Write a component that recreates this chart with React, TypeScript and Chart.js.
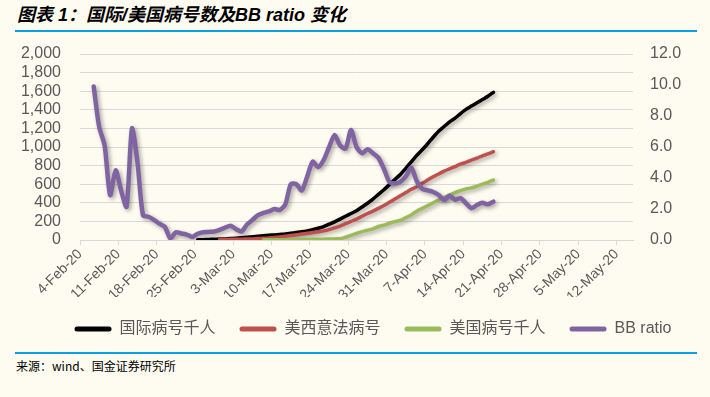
import React, { useEffect, useRef } from 'react';
import { Chart, registerables } from 'chart.js';

Chart.register(...registerables);

// ---- data ----
const tickLabels = [
  '4-Feb-20', '11-Feb-20', '18-Feb-20', '25-Feb-20', '3-Mar-20', '10-Mar-20', '17-Mar-20',
  '24-Mar-20', '31-Mar-20', '7-Apr-20', '14-Apr-20', '21-Apr-20', '28-Apr-20', '5-May-20', '12-May-20',
];
const axisDays = 101; // 4-Feb-20 .. 14-May-20
const seriesNames = ['国际病号千人', '美西意法病号', '美国病号千人', 'BB ratio'];
const seriesColors = ['#000000', '#C0504D', '#9BBB59', '#8064A2'];

// day offset (from 4-Feb-20) of each series' first value
const intlStart = 21;
const intlValues = [
  2, 4, 6, 8, 10, 12, 15, 18, 23, 29,
  36, 40, 45, 50, 55, 60, 65, 72, 80, 88,
  98, 110, 126, 145, 170, 195, 225, 255, 285, 315,
  355, 395, 440, 490, 540, 595, 650, 705, 770, 840,
  910, 970, 1035, 1105, 1170, 1220, 1270, 1310, 1360, 1405,
  1440, 1475, 1510, 1545, 1588,
];
const euStart = 25;
const euValues = [
  5, 6, 7, 8, 9, 10, 12, 15, 18, 22,
  27, 33, 40, 48, 56, 64, 72, 80, 88, 98,
  112, 130, 150, 175, 200, 225, 255, 285, 310, 340,
  370, 405, 440, 475, 510, 545, 573, 610, 645, 680,
  710, 740, 765, 790, 815, 835, 860, 880, 905, 925,
  949,
];
const usStart = 33;
const usValues = [
  2, 3, 3, 4, 4, 5, 5, 6, 6, 7,
  8, 9, 10, 12, 14,
  30, 50, 70, 90, 105, 120, 145, 160, 180, 197,
  212, 240, 270, 310, 340, 370, 400, 430, 455, 485,
  510, 530, 550, 560, 580, 600, 620, 645,
];
const ratioStart = 2;
const ratioValues = [
  9.9, 7.3, 6.1, 2.9, 4.5, 3.2, 2.15, 7.2, 5.0, 1.6,
  1.5, 1.3, 1.05, 0.85, 0.1, 0.5, 0.42, 0.35, 0.2, 0.4,
  0.5, 0.52, 0.55, 0.65, 0.8, 0.92, 0.7, 0.55, 1.0, 1.3,
  1.6, 1.75, 1.85, 2.0, 1.94, 2.3, 3.6, 3.6, 3.2, 4.1,
  5.05, 4.7, 5.16, 6.0, 6.77, 6.1, 5.9, 7.1, 6.0, 5.6,
  5.85, 5.6, 5.3, 4.6, 3.75, 3.65, 3.75, 4.1, 4.67, 3.8,
  3.3, 3.2, 3.1, 2.9, 2.58, 2.85, 2.6, 2.7, 2.37, 2.05,
  2.26, 2.4, 2.3, 2.47,
];

const toPoints = (start: number, values: number[]) =>
  values.map((v, i) => ({ x: start + i + 0.5, y: v }));

const FONT = "'Liberation Sans', Arial, 'Noto Sans CJK SC', sans-serif";
const TEXT = '#595959';
const GRID = '#D9D9D9';

const shadowPlugin = {
  id: 'lineShadow',
  beforeDatasetDraw(chart: any) {
    const ctx = chart.ctx;
    ctx.save();
    ctx.shadowColor = 'rgba(0,0,0,0.35)';
    ctx.shadowBlur = 4;
    ctx.shadowOffsetX = 2;
    ctx.shadowOffsetY = 2;
  },
  afterDatasetDraw(chart: any) {
    chart.ctx.restore();
  },
};

export default function App() {
  const ref = useRef<HTMLCanvasElement | null>(null);

  useEffect(() => {
    if (!ref.current) return;
    const mk = (i: number, pts: any[], axis: string, width: number, order: number) => ({
      label: seriesNames[i],
      data: pts,
      borderColor: seriesColors[i],
      backgroundColor: seriesColors[i],
      borderWidth: width,
      pointRadius: 0,
      tension: 0.25,
      fill: false,
      yAxisID: axis,
      order,
      borderCapStyle: 'round',
      borderJoinStyle: 'round',
    });
    const chart = new Chart(ref.current, {
      type: 'line',
      data: {
        datasets: [
          mk(0, toPoints(intlStart, intlValues), 'y', 3.5, 4),
          mk(1, toPoints(euStart, euValues), 'y', 3.5, 3),
          mk(2, toPoints(usStart, usValues), 'y', 3.5, 2),
          mk(3, toPoints(ratioStart, ratioValues), 'y1', 4.5, 1),
        ] as any,
      },
      plugins: [shadowPlugin],
      options: {
        responsive: false,
        animation: false,
        events: [],
        layout: { padding: { left: 0, right: -36, top: 14, bottom: 0 } },
        plugins: {
          tooltip: { enabled: false },
          legend: {
            position: 'bottom',
            labels: {
              boxWidth: 37,
              boxHeight: 5,
              padding: 24,
              color: TEXT,
              font: { size: 16, family: FONT },
              useBorderRadius: true,
              borderRadius: 2.5,
              sort: (a: any, b: any) => a.datasetIndex - b.datasetIndex,
              generateLabels: (c: any) =>
                Chart.defaults.plugins.legend.labels
                  .generateLabels(c)
                  .map((l: any) => ({ ...l, lineWidth: 0, fillStyle: l.strokeStyle })),
            },
          },
        },
        scales: {
          x: {
            type: 'linear',
            min: 0,
            max: axisDays,
            afterFit: (s: any) => { s.height = 57; },
            ticks: {
              stepSize: 7,
              includeBounds: false,
              autoSkip: false,
              minRotation: 45,
              maxRotation: 45,
              color: TEXT,
              font: { size: 14, family: FONT },
              padding: 1,
              callback: (v: any) => tickLabels[Math.round(Number(v) / 7)] ?? '',
            },
            grid: { drawOnChartArea: false, drawTicks: true, tickLength: 5, color: GRID },
            border: { display: true, color: GRID, width: 1 },
          },
          y: {
            position: 'left',
            min: 0,
            max: 2000,
            afterFit: (s: any) => { s.width = 80; s.paddingTop = 0; s.paddingBottom = 0; },
            ticks: {
              stepSize: 200,
              padding: 19,
              autoSkip: false,
              color: TEXT,
              font: { size: 16, family: FONT },
              callback: (v: any) => Math.round(Number(v)).toLocaleString('en-US'),
            },
            grid: { color: GRID, drawTicks: false, lineWidth: 1 },
            border: { display: false },
          },
          y1: {
            position: 'right',
            min: 0,
            max: 12,
            afterFit: (s: any) => { s.width = 113; s.paddingTop = 0; s.paddingBottom = 0; },
            ticks: {
              stepSize: 2,
              padding: 17,
              autoSkip: false,
              color: TEXT,
              font: { size: 16, family: FONT },
              callback: (v: any) => Number(v).toFixed(1),
            },
            grid: { drawOnChartArea: false, drawTicks: false },
            border: { display: false },
          },
        },
      } as any,
    });
    return () => chart.destroy();
  }, []);

  return (
    <div
      style={{
        position: 'absolute',
        left: 0,
        top: 0,
        width: 710,
        height: 397,
        background: '#FEFBF0',
        overflow: 'hidden',
      }}
    >
      <div
        style={{
          position: 'absolute',
          left: 17,
          top: 4,
          fontFamily: FONT,
          fontWeight: 'bold',
          fontStyle: 'italic',
          fontSize: 18,
          color: '#000',
          whiteSpace: 'nowrap',
          lineHeight: '22px',
        }}
      >
        图表 1：国际/美国病号数及BB ratio 变化
      </div>
      <div style={{ position: 'absolute', left: 15, top: 30, width: 682, height: 2, background: '#0AA0E6' }} />
      <canvas
        ref={ref}
        width={710}
        height={307}
        style={{ position: 'absolute', left: 0, top: 40, width: 710, height: 307 }}
      />
      <div style={{ position: 'absolute', left: 15, top: 352, width: 682, height: 2, background: '#0AA0E6' }} />
      <div
        style={{
          position: 'absolute',
          left: 16,
          top: 357,
          fontFamily: "'Noto Sans CJK SC', sans-serif",
          fontSize: 12,
          color: '#000',
          whiteSpace: 'nowrap',
          lineHeight: '18px',
        }}
      >
        来源：wind、国金证券研究所
      </div>
    </div>
  );
}
